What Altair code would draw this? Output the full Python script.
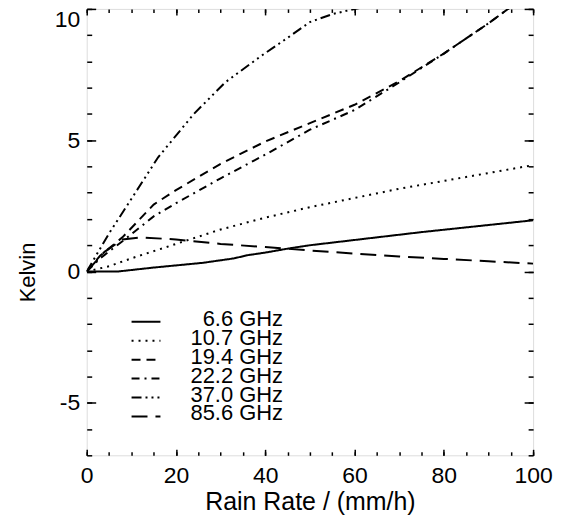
import altair as alt
import pandas as pd

FONT = "Liberation Sans"
W, H = 448, 448

freqs = ["6.6 GHz", "10.7 GHz", "19.4 GHz", "22.2 GHz", "37.0 GHz", "85.6 GHz"]
dashes = [[1, 0], [2, 5], [9, 6], [8, 5, 2, 5], [10, 4, 2, 4, 2, 4, 2, 4], [16, 8]]

rr_66 = [0, 7, 15, 26, 33, 36, 40, 45, 50, 60, 75, 100]
tb_66 = [0, 0, 0.15, 0.33, 0.5, 0.62, 0.72, 0.87, 1.0, 1.2, 1.5, 1.95]

rr_107 = [0, 5, 10, 20, 30, 40, 50, 60, 70, 80, 90, 100]
tb_107 = [0, 0.2, 0.5, 1.05, 1.6, 2.05, 2.45, 2.8, 3.15, 3.45, 3.75, 4.05]

rr_194 = [0, 3, 8, 15, 20, 30, 40, 50, 60, 70, 80, 90, 100]
tb_194 = [0, 0.6, 1.3, 2.55, 3.1, 4.1, 4.95, 5.65, 6.35, 7.25, 8.3, 9.45, 10.7]

rr_222 = [0, 3, 8, 15, 20, 30, 40, 50, 60, 70, 80, 90, 100]
tb_222 = [0, 0.5, 1.15, 2.1, 2.6, 3.55, 4.45, 5.4, 6.15, 7.2, 8.3, 9.45, 10.7]

rr_370 = [0, 5, 9, 16, 24, 31, 39, 45, 50, 55, 60, 70]
tb_370 = [0, 1.45, 2.5, 4.35, 6.0, 7.2, 8.2, 8.9, 9.5, 9.8, 10.0, 10.3]

rr_856 = [0, 4, 8, 12, 20, 30, 40, 50, 60, 70, 80, 90, 100]
tb_856 = [0, 0.75, 1.22, 1.3, 1.22, 1.05, 0.93, 0.8, 0.68, 0.57, 0.48, 0.39, 0.3]

x_major = [0, 20, 40, 60, 80, 100]
x_minor = list(range(0, 101, 5))
y_major = [-5, 0, 5, 10]
y_minor = list(range(-7, 11))

series = [
    (freqs[0], rr_66, tb_66),
    (freqs[1], rr_107, tb_107),
    (freqs[2], rr_194, tb_194),
    (freqs[3], rr_222, tb_222),
    (freqs[4], rr_370, tb_370),
    (freqs[5], rr_856, tb_856),
]
rows = []
for name, rr, tb in series:
    for a, b in zip(rr, tb):
        rows.append({"freq": name, "rain": a, "tb": b})
df = pd.DataFrame(rows)
leg_df = pd.DataFrame({"freq": freqs, "i": list(range(len(freqs)))})

xs = alt.Scale(domain=[0, 100], nice=False, zero=False)
ys = alt.Scale(domain=[-7, 10], nice=False, zero=False)
dash_scale = alt.Scale(domain=freqs, range=dashes)

tick_common = dict(labels=False, domain=False, grid=False, title="",
                   tickColor="black", tickWidth=1.5)

x_lab = alt.Axis(orient="bottom", values=x_major, ticks=False, domain=False, grid=False,
                 labelFontSize=23, labelFont=FONT, labelColor="black", labelPadding=9,
                 labelFlush=False, labelExpr="toString(datum.value)",
                 title="Rain Rate / (mm/h)", titleFontSize=25, titleFont=FONT,
                 titleFontWeight="normal", titleColor="black", titlePadding=2)
y_lab = alt.Axis(orient="left", values=y_major, ticks=False, domain=False, grid=False,
                 labelFontSize=23, labelFont=FONT, labelColor="black", labelPadding=7,
                 labelFlush=True, labelExpr="toString(datum.value)",
                 title="Kelvin", titleFontSize=22, titleFont=FONT, titleFontWeight="normal",
                 titleColor="black", titleAngle=270, titleAlign="center",
                 titleBaseline="middle", titleX=-59, titleY=264)

lines = alt.Chart(df).mark_line(color="black", strokeWidth=2, clip=True).encode(
    x=alt.X("rain:Q", scale=xs, axis=x_lab),
    y=alt.Y("tb:Q", scale=ys, axis=y_lab),
    strokeDash=alt.StrokeDash("freq:N", scale=dash_scale, legend=None),
)


def axis_layer(xaxis, yaxis):
    return alt.Chart(df).mark_point(opacity=0).encode(
        x=alt.X("rain:Q", scale=xs, axis=xaxis),
        y=alt.Y("tb:Q", scale=ys, axis=yaxis),
    )


layers = [
    lines,
    # inner ticks along bottom (major) and left (major)
    axis_layer(alt.Axis(orient="top", offset=-H, values=x_major, tickSize=6, **tick_common),
               alt.Axis(orient="right", offset=-W, values=y_major, tickSize=9, **tick_common)),
    # inner ticks along bottom (minor) and left (minor)
    axis_layer(alt.Axis(orient="top", offset=-H, values=x_minor, tickSize=3.5, **tick_common),
               alt.Axis(orient="right", offset=-W, values=y_minor, tickSize=5, **tick_common)),
    # inner ticks along top (major) and right (major)
    axis_layer(alt.Axis(orient="bottom", offset=-H, values=x_major, tickSize=6, **tick_common),
               alt.Axis(orient="left", offset=-W, values=y_major, tickSize=9, **tick_common)),
    # inner ticks along top (minor) and right (minor)
    axis_layer(alt.Axis(orient="bottom", offset=-H, values=x_minor, tickSize=3.5, **tick_common),
               alt.Axis(orient="left", offset=-W, values=y_minor, tickSize=5, **tick_common)),
]
main = alt.layer(*layers).resolve_axis(x="independent", y="independent")

leg_base = alt.Chart(leg_df).transform_calculate(
    ly="314 + 19 * datum.i", ty="311 + 19 * datum.i"
)
leg_lines = leg_base.mark_rule(color="black", strokeWidth=2).encode(
    x=alt.value(45), x2=alt.value(74),
    y=alt.Y("ly:Q", scale=None, axis=None),
    strokeDash=alt.StrokeDash("freq:N", scale=dash_scale, legend=None),
)
leg_text = leg_base.mark_text(align="right", baseline="middle", fontSize=22,
                              font=FONT, color="black").encode(
    x=alt.value(197),
    y=alt.Y("ty:Q", scale=None, axis=None),
    text="freq:N",
)

chart = alt.layer(main, leg_lines, leg_text).resolve_scale(
    x="independent", y="independent"
).properties(
    width=W, height=H,
    autosize=alt.AutoSizeParams(type="none"),
    padding={"left": 79, "top": 0, "right": 30, "bottom": 62},
).configure_view(stroke="#333", strokeWidth=1.5).configure(font=FONT)

chart.save("out.html", embed_options={"renderer": "svg", "actions": False})
